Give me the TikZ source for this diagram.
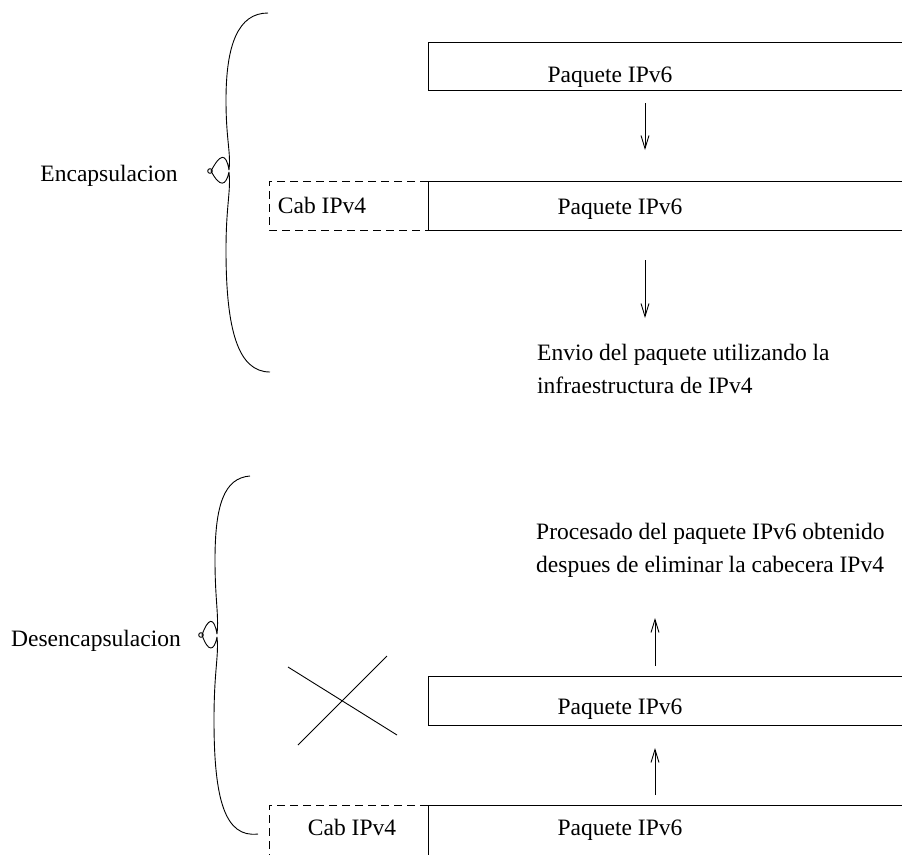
\documentclass[tikz,border=0pt]{standalone}
\usepackage{fontspec}
\setmainfont{Liberation Serif}
\usetikzlibrary{arrows.meta}
\tikzset{
  line/.style={line width=0.9pt, black},
  solidbox/.style={line, draw},
  dashedbox/.style={line, dash pattern=on 8pt off 5pt},
  flow/.style={line, -{Straight Barb[length=13pt,width=8pt,line width=0.9pt]}},
  lbl/.style={inner sep=0pt, font=\fontsize{23.5}{33}\selectfont},
  brace/.style={line, line join=round},
}
\begin{document}
\begin{tikzpicture}[x=1pt,y=-1pt]
\useasboundingbox (0,0) rectangle (902,854);
\clip (0,0) rectangle (902,854);

% ---------- encapsulation ----------
\draw[solidbox] (428,42) rectangle (920,90);
\node[lbl, anchor=base] (p1) at (610,82) {Paquete IPv6};

\coordinate (a1s) at (645,103);
\coordinate (a1e) at (645,150);
\draw[flow] (a1s) -- (a1e);

\draw[solidbox] (428,181) rectangle (920,230);
\draw[dashedbox] (428,181) -- (269,181) -- (269,230) -- (428,230);
\node[lbl, anchor=base] (p2) at (620,214) {Paquete IPv6};
\node[lbl, anchor=base] (c2) at (322,213) {Cab IPv4};

\coordinate (a2s) at (645,260);
\coordinate (a2e) at (645,318);
\draw[flow] (a2s) -- (a2e);

% anchor=base of a two-line node sits on its last line
\node[lbl, anchor=base west, align=left] (envio) at (537,393)
  {Envio del paquete utilizando la\\infraestructura de IPv4};

% brace with a looped tip
\draw[brace] (268,13) .. controls (238,13) and (226,45) .. (226,100)
  .. controls (226,140) and (231,152) .. (229,170)
  .. controls (226,152) and (220,154) .. (211,171)
  .. controls (220,188) and (226,186) .. (229,172)
  .. controls (231,192) and (226,205) .. (226,250)
  .. controls (226,330) and (238,372) .. (270,372);
\draw[line] (210,171) circle (2.3pt);
\node[lbl, anchor=base] (enc) at (109,181) {Encapsulacion};

% ---------- decapsulation ----------
\node[lbl, anchor=base west, align=left] (proc) at (536,572)
  {Procesado del paquete IPv6 obtenido\\despues de eliminar la cabecera IPv4};

\coordinate (a3s) at (655,666);
\coordinate (a3e) at (655,618);
\draw[flow] (a3s) -- (a3e);

\draw[solidbox] (428,676) rectangle (920,725);
\node[lbl, anchor=base] (p3) at (620,714) {Paquete IPv6};

% struck-out header
\coordinate (x1a) at (288,667);
\coordinate (x1b) at (397,735);
\coordinate (x2a) at (298,745);
\coordinate (x2b) at (387,656);
\draw[line] (x1a) -- (x1b);
\draw[line] (x2a) -- (x2b);

\coordinate (a4s) at (655,795);
\coordinate (a4e) at (655,748);
\draw[flow] (a4s) -- (a4e);

\draw[solidbox] (428,805) rectangle (920,880);
\draw[dashedbox] (428,805) -- (269,805) -- (269,870);
\node[lbl, anchor=base] (p4) at (620,835) {Paquete IPv6};
\node[lbl, anchor=base] (c4) at (352,835) {Cab IPv4};

\draw[brace] (250,476) .. controls (224,478) and (215,505) .. (215,560)
  .. controls (215,600) and (219,615) .. (217,634)
  .. controls (214,616) and (208,618) .. (202,635)
  .. controls (208,652) and (214,652) .. (217,637)
  .. controls (219,656) and (214,670) .. (214,720)
  .. controls (214,800) and (225,838) .. (258,834);
\draw[line] (201,635) circle (2.3pt);
\node[lbl, anchor=base] (dec) at (96,646) {Desencapsulacion};
\end{tikzpicture}
\end{document}
